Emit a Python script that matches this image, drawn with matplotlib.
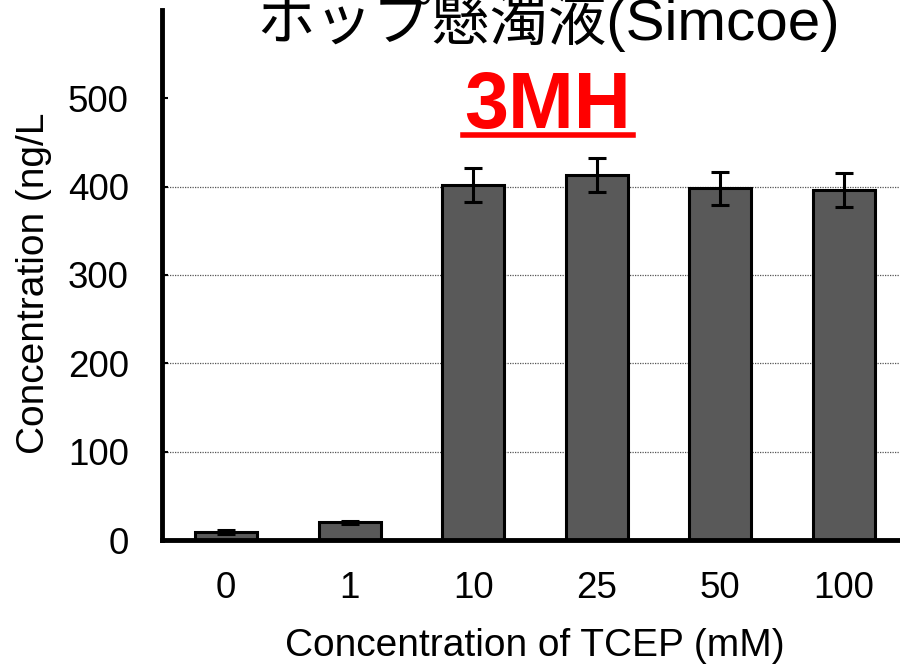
import numpy as np
import matplotlib.pyplot as plt

plt.rcParams['font.family'] = ['Liberation Sans', 'Noto Sans CJK JP', 'DejaVu Sans']

categories = ['0', '1', '10', '25', '50', '100']
values = [9, 20, 402, 413, 398, 396]
errors = [2, 2, 19, 19, 19, 19]
grid_levels = [100, 200, 300, 400]
y_ticks = [0, 100, 200, 300, 400, 500]

fig = plt.figure(figsize=(9, 6.66), dpi=100)
ax = fig.add_axes([162 / 900, 126 / 666, 746 / 900, 530 / 666])

x = np.arange(len(categories))
ax.hlines(grid_levels, -0.52, 5.52, colors='#555555', linestyles=(0, (1, 1)),
          linewidth=0.9, zorder=1)
ax.bar(x, values, width=0.5, color='#595959', edgecolor='black', linewidth=2.2, zorder=2)
ax.errorbar(x, values, yerr=errors, fmt='none', ecolor='black', elinewidth=2.2,
            capsize=6.5, capthick=2.2, zorder=3)

ax.set_xlim(-0.52, 5.52)
ax.set_ylim(0, 600)
ax.set_xticks(x)
ax.set_xticklabels(categories, fontsize=26.5)
ax.set_yticks(y_ticks)
ax.set_yticklabels([str(v) for v in y_ticks], fontsize=26.5)
ax.tick_params(axis='x', length=0, pad=22)
ax.tick_params(axis='y', direction='in', length=4, width=1.5, pad=24)

for s in ['top', 'right']:
    ax.spines[s].set_visible(False)
for s in ['left', 'bottom']:
    ax.spines[s].set_linewidth(3.5)

ax.set_xlabel('Concentration of TCEP (mM)', fontsize=28, labelpad=16)
ax.set_ylabel('Concentration (ng/L', fontsize=28)
ax.yaxis.set_label_coords(-0.147, 0.485)

fig.text(548 / 900, 1 - 40 / 666, 'ホップ懸濁液(Simcoe)', fontsize=42,
         ha='center', va='baseline')
fig.text(548 / 900, 1 - 128 / 666, '3MH', fontsize=57, fontweight='bold',
         color='#ff0000', ha='center', va='baseline')
fig.add_artist(plt.Line2D([463 / 900, 633 / 900], [1 - 135 / 666, 1 - 135 / 666],
                          color='#ff0000', linewidth=4))

fig.savefig('out.png', dpi=100)
